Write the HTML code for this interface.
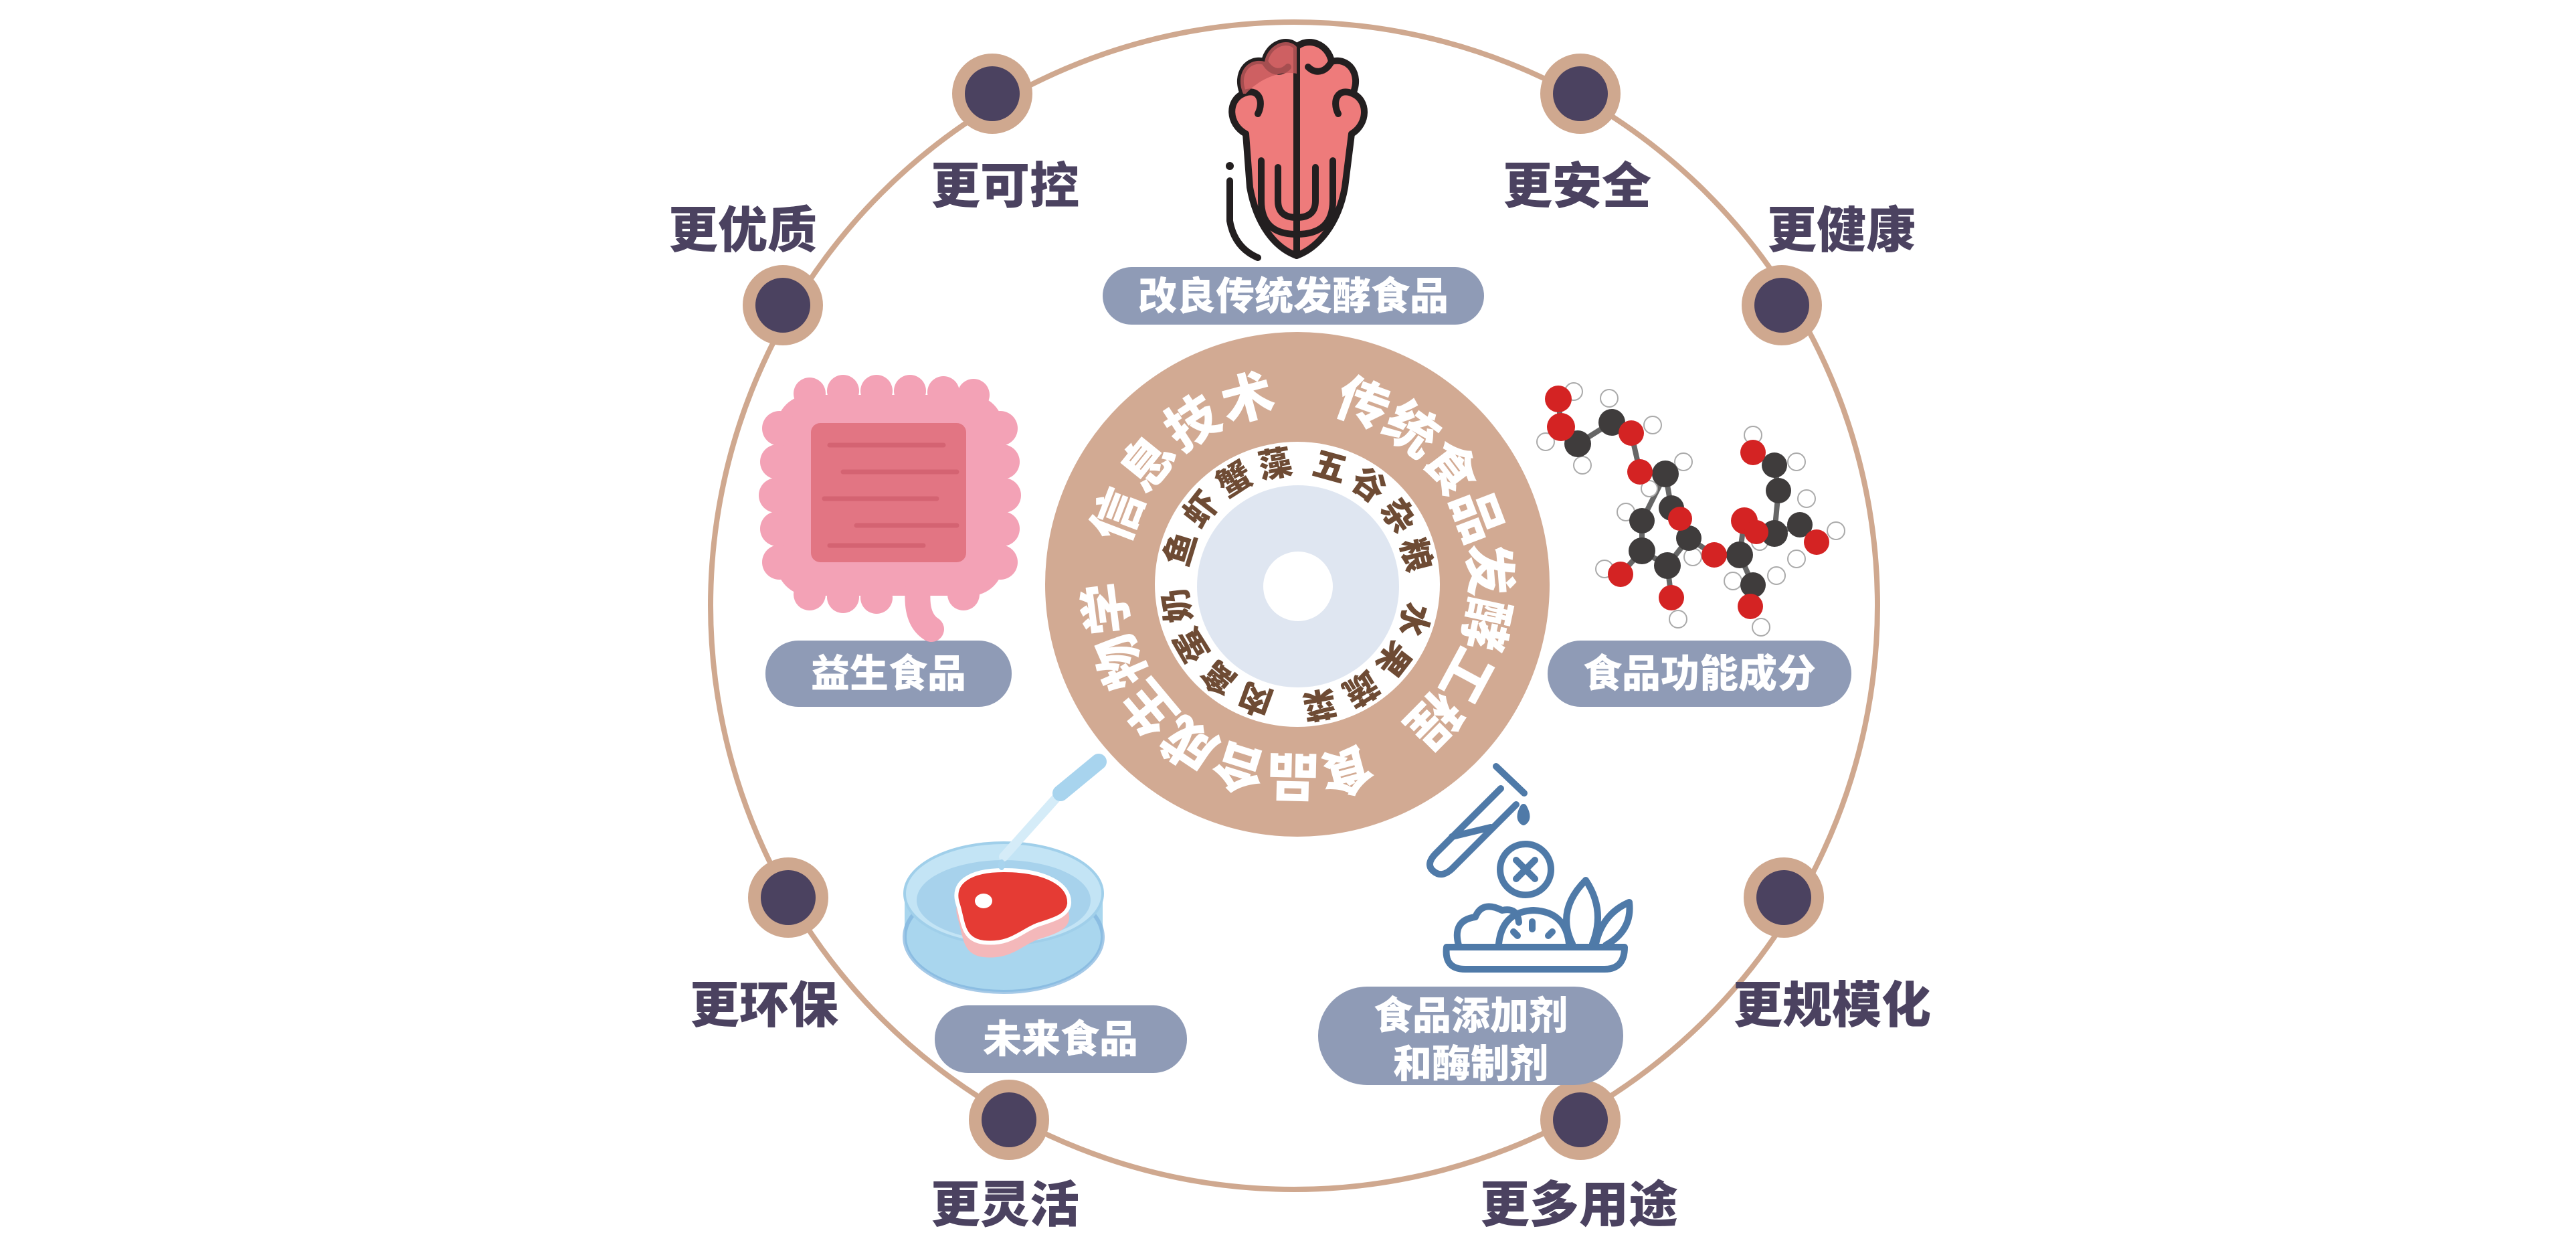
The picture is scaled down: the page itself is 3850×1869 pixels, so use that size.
<!DOCTYPE html>
<html><head><meta charset="utf-8"><style>
html,body{margin:0;padding:0;background:#fff;}
svg{display:block;}
text{font-family:"Liberation Sans","Noto Sans CJK SC",sans-serif;font-weight:900;}
</style></head><body>
<svg width="3850" height="1869" viewBox="0 0 3850 1869" xmlns="http://www.w3.org/2000/svg">
<!-- outer ring -->
<circle cx="1934" cy="905" r="872" fill="none" stroke="#cfa88f" stroke-width="8"/>
<g fill="#cfa88f">
<circle cx="1483" cy="140" r="60"/><circle cx="2362" cy="140" r="60"/>
<circle cx="1170" cy="456" r="60"/><circle cx="2663" cy="456" r="60"/>
<circle cx="1178" cy="1341" r="60"/><circle cx="2666" cy="1341" r="60"/>
<circle cx="1508" cy="1673" r="60"/><circle cx="2362" cy="1673" r="60"/>
</g>
<g fill="#4b4260">
<circle cx="1483" cy="140" r="41"/><circle cx="2362" cy="140" r="41"/>
<circle cx="1170" cy="456" r="41"/><circle cx="2663" cy="456" r="41"/>
<circle cx="1178" cy="1341" r="41"/><circle cx="2666" cy="1341" r="41"/>
<circle cx="1508" cy="1673" r="41"/><circle cx="2362" cy="1673" r="41"/>
</g>
<g fill="#4b4260" font-size="74" text-anchor="middle" dominant-baseline="central">
<text x="1502" y="278">更可控</text>
<text x="2357" y="278">更安全</text>
<text x="1110" y="344">更优质</text>
<text x="2752" y="344">更健康</text>
<text x="1142" y="1502">更环保</text>
<text x="2738" y="1502">更规模化</text>
<text x="1502" y="1800">更灵活</text>
<text x="2360" y="1800">更多用途</text>
</g>

<!-- central disk -->
<circle cx="1939" cy="873" r="377" fill="#d2aa93"/>
<circle cx="1939" cy="873" r="213" fill="#fff"/>
<circle cx="1940" cy="876" r="151" fill="#dfe6f1"/>
<circle cx="1940" cy="876" r="52" fill="#fff"/>
<g fill="#fff" font-size="78" text-anchor="middle" dominant-baseline="central">
<text transform="translate(1939,873) rotate(-69) translate(0,-287)">信</text>
<text transform="translate(1939,873) rotate(-51) translate(0,-287)">息</text>
<text transform="translate(1939,873) rotate(-33) translate(0,-287)">技</text>
<text transform="translate(1939,873) rotate(-15) translate(0,-287)">术</text>
<text transform="translate(1939,873) rotate(20) translate(0,-287)">传</text>
<text transform="translate(1939,873) rotate(36.4) translate(0,-287)">统</text>
<text transform="translate(1939,873) rotate(52.8) translate(0,-287)">食</text>
<text transform="translate(1939,873) rotate(69.2) translate(0,-287)">品</text>
<text transform="translate(1939,873) rotate(85.6) translate(0,-287)">发</text>
<text transform="translate(1939,873) rotate(102) translate(0,-287)">酵</text>
<text transform="translate(1939,873) rotate(118.4) translate(0,-287)">工</text>
<text transform="translate(1939,873) rotate(134.8) translate(0,-287)">程</text>
<text transform="translate(1939,873) rotate(165) translate(0,-287)">食</text>
<text transform="translate(1939,873) rotate(181.3) translate(0,-287)">品</text>
<text transform="translate(1939,873) rotate(197.6) translate(0,-287)">合</text>
<text transform="translate(1939,873) rotate(213.9) translate(0,-287)">成</text>
<text transform="translate(1939,873) rotate(230.2) translate(0,-287)">生</text>
<text transform="translate(1939,873) rotate(246.5) translate(0,-287)">物</text>
<text transform="translate(1939,873) rotate(262.8) translate(0,-287)">学</text>
</g>
<g fill="#6e4b34" font-size="50" text-anchor="middle" dominant-baseline="central">
<text transform="translate(1939,873) rotate(-73) translate(0,-182)">鱼</text>
<text transform="translate(1939,873) rotate(-52) translate(0,-182)">虾</text>
<text transform="translate(1939,873) rotate(-31) translate(0,-182)">蟹</text>
<text transform="translate(1939,873) rotate(-10.5) translate(0,-182)">藻</text>
<text transform="translate(1939,873) rotate(15.5) translate(0,-182)">五</text>
<text transform="translate(1939,873) rotate(35.7) translate(0,-182)">谷</text>
<text transform="translate(1939,873) rotate(55.9) translate(0,-182)">杂</text>
<text transform="translate(1939,873) rotate(76) translate(0,-182)">粮</text>
<text transform="translate(1939,873) rotate(107) translate(0,-182)">水</text>
<text transform="translate(1939,873) rotate(127.8) translate(0,-182)">果</text>
<text transform="translate(1939,873) rotate(148.6) translate(0,-182)">蔬</text>
<text transform="translate(1939,873) rotate(169.5) translate(0,-182)">菜</text>
<text transform="translate(1939,873) rotate(200) translate(0,-182)">肉</text>
<text transform="translate(1939,873) rotate(220) translate(0,-182)">禽</text>
<text transform="translate(1939,873) rotate(240) translate(0,-182)">蛋</text>
<text transform="translate(1939,873) rotate(260) translate(0,-182)">奶</text>
</g>

<!-- pills -->
<g fill="#8f9bb6">
<rect x="1648" y="399" width="570" height="86" rx="43"/>
<rect x="1144" y="957" width="368" height="99" rx="49"/>
<rect x="2313" y="957" width="454" height="99" rx="49"/>
<rect x="1397" y="1502" width="377" height="101" rx="50"/>
<rect x="1970" y="1474" width="456" height="147" rx="73"/>
</g>
<g fill="#fff" font-size="58" text-anchor="middle" dominant-baseline="central">
<text x="1933" y="443">改良传统发酵食品</text>
<text x="1328" y="1007">益生食品</text>
<text x="2540" y="1007">食品功能成分</text>
<text x="1585" y="1553">未来食品</text>
<text x="2198" y="1518">食品添加剂</text>
<text x="2198" y="1590">和酶制剂</text>
</g>

<!-- cabbage -->
<g stroke="#231f20" stroke-width="10" stroke-linejoin="round" stroke-linecap="round">
<path d="M1862,200 C1835,185 1835,150 1858,140 C1845,110 1865,85 1890,92 C1895,65 1925,55 1938,70 C1955,55 1985,65 1990,92 C2015,85 2035,110 2022,140 C2045,150 2045,185 2020,200 L2010,280 C2000,335 1970,370 1938,382 C1905,370 1878,335 1868,280 Z" fill="#ee7b7b"/>
<path d="M1858,140 C1880,130 1890,150 1880,170 M2022,140 C2000,130 1990,150 2000,170 M1890,92 C1900,110 1915,110 1925,100 M1990,92 C1980,110 1965,110 1955,100" fill="none"/>
<path d="M1938,70 L1938,382" fill="none"/>
<path d="M1885,240 L1885,300 Q1885,350 1938,350 Q1992,350 1992,300 L1992,240" fill="none"/>
<path d="M1910,250 L1910,300 Q1910,325 1938,325 Q1966,325 1966,300 L1966,250" fill="none"/>
<path d="M1838,270 L1838,330 Q1845,370 1880,385" fill="none"/>
</g>
<path d="M1858,140 C1845,110 1865,85 1890,92 C1895,65 1925,55 1938,70 L1938,110 C1910,105 1880,120 1862,140 Z" fill="#c65a5c" opacity="0.8"/>
<circle cx="1838" cy="248" r="6" fill="#231f20"/>

<!-- intestine -->
<rect x="1160" y="590" width="340" height="300" rx="50" fill="#f3a2b6"/>
<g fill="#f3a2b6">
<circle cx="1165" cy="640" r="26"/><circle cx="1162" cy="690" r="26"/><circle cx="1160" cy="740" r="26"/><circle cx="1162" cy="790" r="26"/><circle cx="1165" cy="840" r="26"/>
<circle cx="1495" cy="640" r="26"/><circle cx="1498" cy="690" r="26"/><circle cx="1500" cy="740" r="26"/><circle cx="1498" cy="790" r="26"/><circle cx="1495" cy="840" r="26"/>
<circle cx="1210" cy="588" r="24"/><circle cx="1260" cy="584" r="24"/><circle cx="1310" cy="584" r="24"/><circle cx="1360" cy="584" r="24"/><circle cx="1410" cy="586" r="24"/><circle cx="1455" cy="590" r="24"/>
<circle cx="1210" cy="888" r="24"/><circle cx="1260" cy="892" r="24"/><circle cx="1310" cy="893" r="24"/><circle cx="1440" cy="888" r="24"/>
</g>
<path d="M1372,880 Q1368,925 1392,940" fill="none" stroke="#f3a2b6" stroke-width="38" stroke-linecap="round"/>
<rect x="1212" y="632" width="232" height="208" rx="14" fill="#e27583"/>
<g stroke="#cf5c6c" stroke-width="7" stroke-linecap="round" opacity="0.7">
<line x1="1240" y1="665" x2="1410" y2="665"/>
<line x1="1260" y1="705" x2="1430" y2="705"/>
<line x1="1232" y1="745" x2="1400" y2="745"/>
<line x1="1280" y1="785" x2="1430" y2="785"/>
<line x1="1240" y1="815" x2="1380" y2="815"/>
</g>

<!-- molecule -->
<g stroke="#666" stroke-width="8" stroke-linecap="round" fill="none">
<path d="M2333,638 L2358,663 L2409,631 L2438,647 L2451,705 L2489,708 L2498,759 L2524,804 L2492,845 L2454,823 L2454,778 L2489,708 M2492,845 L2498,893 M2454,823 L2422,858 M2524,804 L2562,829 L2600,829 L2607,778 L2652,797 L2690,784 L2715,810 M2652,797 L2658,733 L2652,695 L2620,676 M2600,829 L2620,874 L2616,906 M2329,596 L2333,638"/>
</g>
<g fill="#fff" stroke="#aaa" stroke-width="2">
<circle cx="2352" cy="585" r="13"/><circle cx="2310" cy="660" r="13"/><circle cx="2365" cy="695" r="13"/><circle cx="2405" cy="595" r="13"/><circle cx="2470" cy="635" r="13"/><circle cx="2516" cy="690" r="13"/><circle cx="2430" cy="765" r="13"/><circle cx="2530" cy="832" r="13"/><circle cx="2398" cy="850" r="13"/><circle cx="2508" cy="925" r="13"/><circle cx="2620" cy="650" r="13"/><circle cx="2685" cy="690" r="13"/><circle cx="2700" cy="745" r="13"/><circle cx="2744" cy="793" r="13"/><circle cx="2590" cy="868" r="13"/><circle cx="2632" cy="937" r="13"/><circle cx="2655" cy="860" r="13"/><circle cx="2685" cy="835" r="13"/><circle cx="2465" cy="730" r="12"/><circle cx="2630" cy="810" r="12"/>
</g>
<g fill="#3f3c3c">
<circle cx="2358" cy="663" r="20"/><circle cx="2409" cy="631" r="20"/><circle cx="2489" cy="708" r="20"/><circle cx="2498" cy="759" r="19"/><circle cx="2524" cy="804" r="19"/><circle cx="2492" cy="845" r="20"/><circle cx="2454" cy="823" r="20"/><circle cx="2454" cy="778" r="19"/><circle cx="2600" cy="829" r="20"/><circle cx="2652" cy="797" r="20"/><circle cx="2690" cy="784" r="19"/><circle cx="2658" cy="733" r="19"/><circle cx="2652" cy="695" r="19"/><circle cx="2620" cy="874" r="19"/>
</g>
<g fill="#d42323">
<circle cx="2329" cy="596" r="20"/><circle cx="2333" cy="638" r="21"/><circle cx="2438" cy="647" r="19"/><circle cx="2451" cy="705" r="19"/><circle cx="2511" cy="775" r="18"/><circle cx="2422" cy="858" r="19"/><circle cx="2498" cy="893" r="19"/><circle cx="2562" cy="829" r="19"/><circle cx="2607" cy="778" r="20"/><circle cx="2625" cy="795" r="18"/><circle cx="2715" cy="810" r="19"/><circle cx="2620" cy="676" r="19"/><circle cx="2616" cy="906" r="19"/>
</g>

<!-- petri dish -->
<path d="M1352,1335 L1352,1400 A148,82 0 0 0 1648,1400 L1648,1335 Z" fill="#a9d6ee"/>
<ellipse cx="1500" cy="1400" rx="148" ry="82" fill="none" stroke="#7fb2dd" stroke-width="6" opacity="0.7"/>
<ellipse cx="1500" cy="1335" rx="148" ry="76" fill="#c3e4f5" stroke="#a0cfea" stroke-width="4"/>
<ellipse cx="1500" cy="1345" rx="130" ry="60" fill="#a7d2ec"/>
<path d="M1432,1352 C1420,1318 1450,1300 1500,1300 C1560,1300 1600,1320 1598,1350 C1596,1370 1570,1375 1550,1382 C1525,1392 1510,1412 1470,1408 C1438,1404 1440,1378 1432,1352 Z" fill="#f4b8ba" transform="translate(0,22)"/>
<path d="M1432,1352 C1420,1318 1450,1300 1500,1300 C1560,1300 1600,1320 1598,1350 C1596,1370 1570,1375 1550,1382 C1525,1392 1510,1412 1470,1408 C1438,1404 1440,1378 1432,1352 Z" fill="#e53b34" stroke="#fff" stroke-width="6"/>
<ellipse cx="1470" cy="1346" rx="13" ry="11" fill="#fff"/>
<line x1="1500" y1="1280" x2="1585" y2="1185" stroke="#d5ecf8" stroke-width="14" stroke-linecap="round"/>
<line x1="1585" y1="1185" x2="1642" y2="1138" stroke="#a8d4ee" stroke-width="24" stroke-linecap="round"/>
<ellipse cx="1497" cy="1292" rx="5" ry="8" fill="#a8d4ee"/>

<!-- test tube / food icon -->
<g fill="none" stroke="#4f7aa8" stroke-width="10" stroke-linecap="round" stroke-linejoin="round">
<path d="M2236,1145 L2278,1185"/>
<path d="M2243,1178 L2145,1276 Q2130,1292 2143,1302 Q2155,1312 2170,1298 L2266,1202"/>
<path d="M2170,1250 L2228,1236"/>
<path d="M2277,1206 Q2268,1222 2277,1228 Q2286,1222 2277,1206 Z"/>
<circle cx="2280" cy="1299" r="38"/>
<path d="M2266,1285 L2294,1313 M2294,1285 L2266,1313"/>
<path d="M2162,1415 Q2158,1448 2190,1448 L2398,1448 Q2428,1448 2428,1415 Z"/>
<path d="M2180,1412 Q2170,1375 2205,1370 Q2215,1345 2245,1360 Q2268,1355 2270,1378"/>
<path d="M2240,1410 Q2245,1362 2292,1360 Q2340,1362 2345,1410"/>
<path d="M2290,1377 L2290,1388 M2262,1392 L2268,1398 M2320,1392 L2314,1398"/>
<path d="M2350,1410 Q2325,1360 2370,1315 Q2400,1360 2380,1410"/>
<path d="M2385,1410 Q2395,1365 2435,1348 Q2440,1390 2400,1412"/>
</g>
</svg>
</body></html>
